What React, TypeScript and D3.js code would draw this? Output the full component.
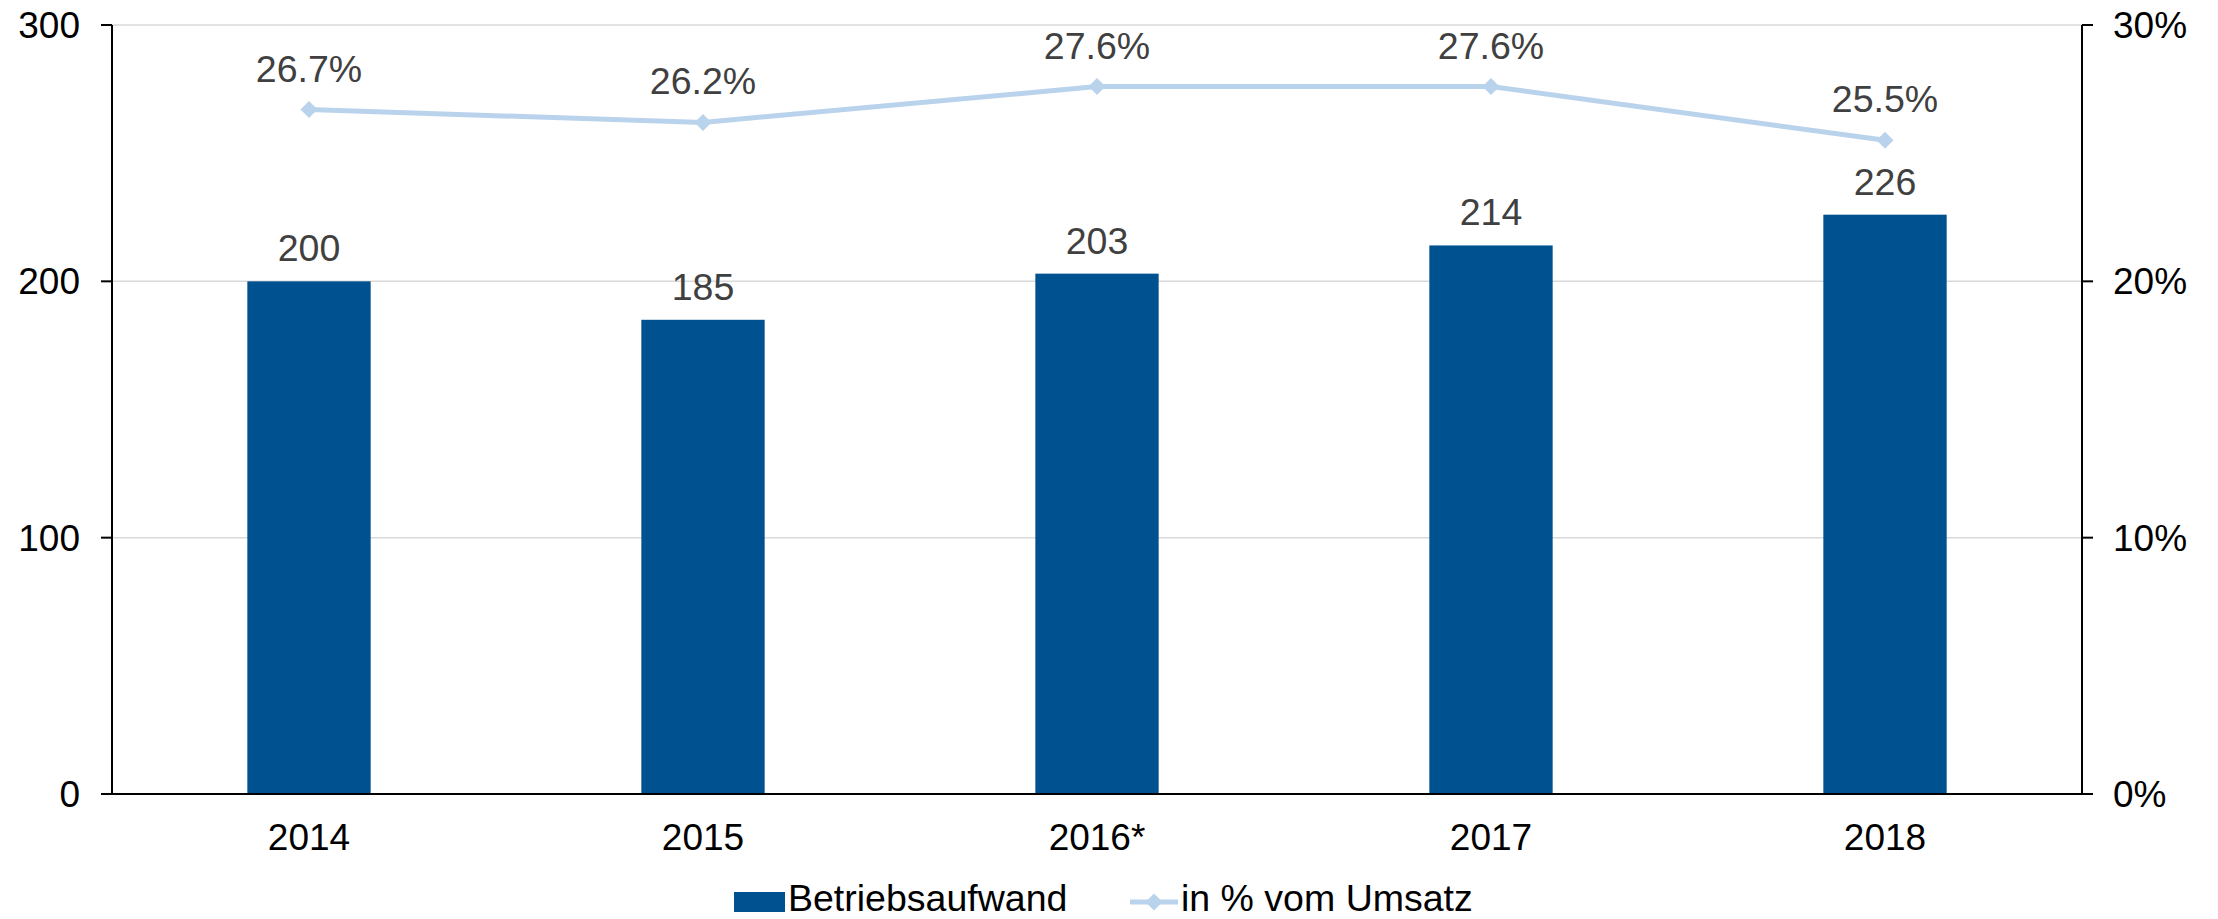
import React from "react";
import * as d3 from "d3";

// values
const years = ["2014", "2015", "2016*", "2017", "2018"];
const betriebsaufwand = [200, 185, 203, 214, 226];
const umsatzAnteil = [26.7, 26.2, 27.6, 27.6, 25.5];
const leftTicks = [0, 100, 200, 300];
const rightTicks = [0, 10, 20, 30];

const W = 2218;
const H = 919;
const FONT = "'Liberation Sans', Arial, sans-serif";
const BAR = "#00518F";
const LINE = "#BAD3EC";

export default function App() {
  const left = 112;
  const right = 2082;
  const top = 25;
  const bottom = 794;

  const x = d3.scaleBand<string>().domain(years).range([left, right]).padding(0);
  const yL = d3.scaleLinear().domain([0, 300]).range([bottom, top]);
  const yR = d3.scaleLinear().domain([0, 30]).range([bottom, top]);
  const barW = x.bandwidth() * 0.313;
  const cx = (d: string) => (x(d) as number) + x.bandwidth() / 2;

  const line = d3
    .line<number>()
    .x((_, i) => cx(years[i]))
    .y((d) => yR(d));

  const diamond = (px: number, py: number, r = 8.5) =>
    `M${px},${py - r}L${px + r},${py}L${px},${py + r}L${px - r},${py}Z`;

  return (
    <svg
      width={W}
      height={H}
      style={{ position: "absolute", left: 0, top: 0, background: "#fff" }}
      fontFamily={FONT}
    >
      {/* gridlines */}
      {leftTicks
        .filter((t) => t > 0)
        .map((t) => (
          <line key={t} x1={left} x2={right} y1={yL(t)} y2={yL(t)} stroke="#D9D9D9" strokeWidth={1.5} />
        ))}

      {/* bars */}
      {years.map((y, i) => (
        <rect
          key={y}
          x={cx(y) - barW / 2}
          y={yL(betriebsaufwand[i])}
          width={barW}
          height={bottom - yL(betriebsaufwand[i])}
          fill={BAR}
        />
      ))}
      {years.map((y, i) => (
        <text
          key={"bl" + y}
          x={cx(y)}
          y={yL(betriebsaufwand[i]) - 20}
          textAnchor="middle"
          fontSize={37.5}
          fill="#404040"
        >
          {betriebsaufwand[i]}
        </text>
      ))}

      {/* line series */}
      <path d={line(umsatzAnteil) || ""} fill="none" stroke={LINE} strokeWidth={5} />
      {umsatzAnteil.map((v, i) => (
        <path key={"m" + i} d={diamond(cx(years[i]), yR(v))} fill={LINE} />
      ))}
      {umsatzAnteil.map((v, i) => (
        <text
          key={"pl" + i}
          x={cx(years[i])}
          y={yR(v) - 28}
          textAnchor="middle"
          fontSize={37.5}
          fill="#404040"
        >
          {v.toFixed(1) + "%"}
        </text>
      ))}

      {/* axes */}
      <line x1={left} x2={left} y1={top} y2={bottom} stroke="#000" strokeWidth={2} />
      <line x1={right} x2={right} y1={top} y2={bottom} stroke="#000" strokeWidth={2} />
      <line x1={left - 11} x2={right + 11} y1={bottom} y2={bottom} stroke="#000" strokeWidth={2} />
      {leftTicks.map((t) => (
        <g key={"lt" + t}>
          <line x1={left - 11} x2={left} y1={yL(t)} y2={yL(t)} stroke="#000" strokeWidth={2} />
          <text x={80} y={yL(t)} dy="0.35em" textAnchor="end" fontSize={37} fill="#000">
            {t}
          </text>
        </g>
      ))}
      {rightTicks.map((t) => (
        <g key={"rt" + t}>
          <line x1={right} x2={right + 11} y1={yR(t)} y2={yR(t)} stroke="#000" strokeWidth={2} />
          <text x={2113} y={yR(t)} dy="0.35em" textAnchor="start" fontSize={37} fill="#000">
            {t + "%"}
          </text>
        </g>
      ))}
      {years.map((y) => (
        <text key={"xl" + y} x={cx(y)} y={850} textAnchor="middle" fontSize={37} fill="#000">
          {y}
        </text>
      ))}

      {/* legend */}
      <rect x={734} y={892} width={51} height={20} fill={BAR} />
      <text x={788} y={911} fontSize={37.5} fill="#000">
        Betriebsaufwand
      </text>
      <line x1={1130} x2={1178} y1={902} y2={902} stroke={LINE} strokeWidth={5} />
      <path d={diamond(1154, 902)} fill={LINE} />
      <text x={1181} y={911} fontSize={37.5} fill="#000">
        in % vom Umsatz
      </text>
    </svg>
  );
}
